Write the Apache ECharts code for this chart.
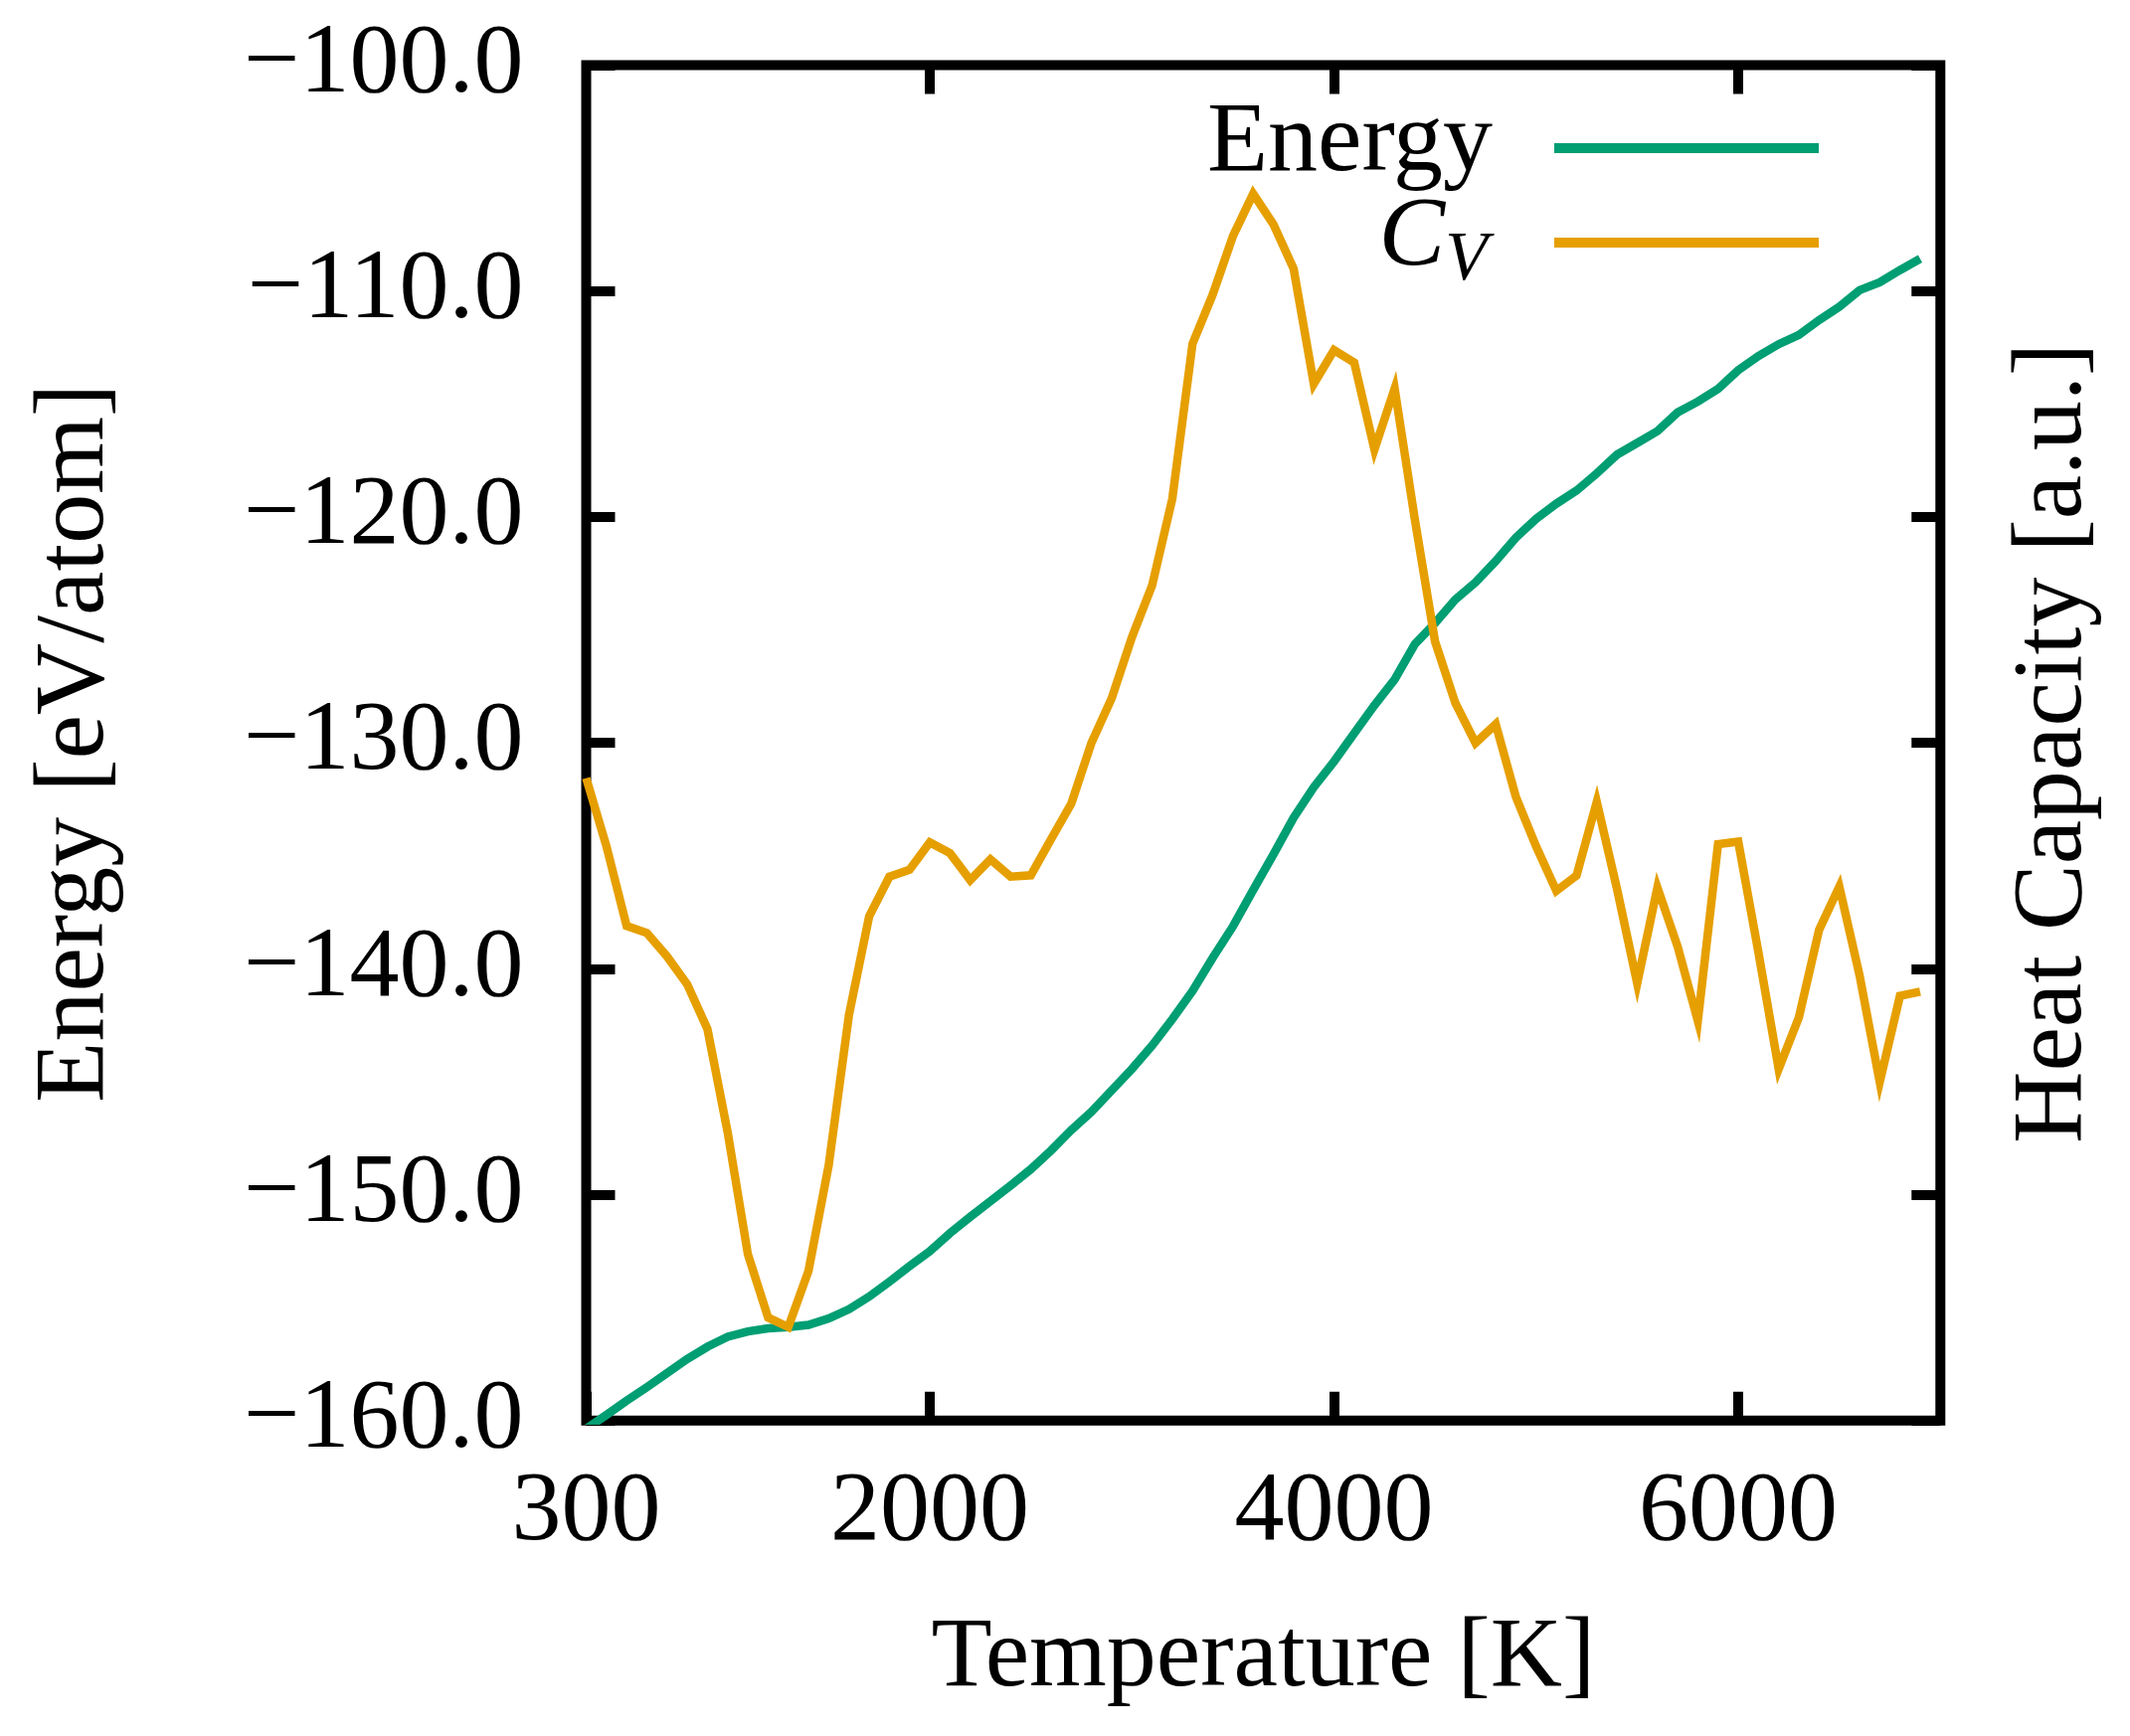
<!DOCTYPE html>
<html>
<head>
<meta charset="utf-8">
<script src="https://cdn.jsdelivr.net/npm/echarts@6/dist/echarts.min.js"></script>
<style>
html,body{margin:0;padding:0;background:#fff;}
#chart{width:2142px;height:1746px;}
</style>
</head>
<body>
<div id="chart"></div>
<script>
// Temperature grid [K]
const temperatures = [300,400,500,600,700,800,900,1000,1100,1200,1300,1400,1500,1600,1700,1800,1900,2000,2100,2200,2300,2400,2500,2600,2700,2800,2900,3000,3100,3200,3300,3400,3500,3600,3700,3800,3900,4000,4100,4200,4300,4400,4500,4600,4700,4800,4900,5000,5100,5200,5300,5400,5500,5600,5700,5800,5900,6000,6100,6200,6300,6400,6500,6600,6700,6800,6900];
// Energy [eV/atom]
const energy = [-160.36,-159.75,-159.12,-158.52,-157.90,-157.27,-156.73,-156.29,-156.05,-155.92,-155.86,-155.76,-155.48,-155.07,-154.51,-153.85,-153.16,-152.50,-151.70,-150.98,-150.29,-149.59,-148.87,-148.04,-147.14,-146.33,-145.38,-144.43,-143.40,-142.23,-140.98,-139.51,-138.12,-136.51,-134.94,-133.31,-131.96,-130.82,-129.57,-128.33,-127.19,-125.63,-124.69,-123.65,-122.89,-121.95,-120.91,-120.08,-119.41,-118.83,-118.07,-117.24,-116.72,-116.20,-115.37,-114.89,-114.33,-113.50,-112.87,-112.35,-111.94,-111.28,-110.69,-109.96,-109.61,-109.07,-108.57];
// Heat capacity [a.u.]
const heatCapacity = [28.44,25.43,21.90,21.59,20.55,19.31,17.33,12.76,7.36,4.56,4.14,6.63,11.31,17.95,22.32,24.08,24.39,25.60,25.12,23.93,24.85,24.08,24.14,25.74,27.31,30.01,31.98,34.68,36.97,40.81,47.67,49.85,52.44,54.31,52.96,50.99,45.90,47.39,46.84,42.99,45.69,39.88,34.48,31.77,30.00,30.83,27.60,25.42,23.45,24.13,27.39,23.54,19.36,23.60,20.99,17.70,25.52,25.63,20.72,15.57,17.85,21.73,23.64,19.72,14.99,18.80,18.99];
// Tick labels
const xTicks = [300, 2000, 4000, 6000];
const xTopTicks = [2000, 4000, 6000];
const seriesNames = ['Energy', 'CV'];

const FONT = 'Liberation Serif';
const GREEN = '#009E73';
const ORANGE = '#E69F00';

const chart = echarts.init(document.getElementById('chart'), null, {renderer: 'canvas'});

const tickStyle = {show: true, inside: true, length: 29, lineStyle: {color: '#000', width: 10}};

const option = {
  backgroundColor: '#fff',
  animation: false,
  grid: {
    left: 589.5, right: 190.7, top: 65.6, bottom: 317.2,
    show: true, borderColor: '#000', borderWidth: 10, backgroundColor: 'transparent',
    containLabel: false, outerBoundsMode: 'none'
  },
  legend: {
    orient: 'vertical',
    align: 'right',
    right: 308,
    top: 90,
    itemWidth: 266,
    itemHeight: 10,
    itemGap: -9,
    icon: 'rect',
    selectedMode: false,
    data: seriesNames,
    formatter: function (name) {
      return name === 'CV' ? '{c|C}{v|V}{g2|}' : '{e|' + name + '}{g1|}';
    },
    textStyle: {
      fontFamily: FONT,
      fontSize: 100,
      color: '#000',
      rich: {
        e: {fontFamily: FONT, fontSize: 100, lineHeight: 90, verticalAlign: 'top', color: '#000'},
        c: {fontFamily: FONT, fontSize: 100, fontStyle: 'italic', lineHeight: 90, verticalAlign: 'top', color: '#000'},
        v: {fontFamily: FONT, fontSize: 70, fontStyle: 'italic', lineHeight: 76, verticalAlign: 'bottom', color: '#000'},
        g1: {width: 57, lineHeight: 108},
        g2: {width: 62, lineHeight: 108}
      }
    }
  },
  xAxis: [
    {
      type: 'value', position: 'bottom', min: 300, max: 7000,
      name: 'Temperature [K]', nameLocation: 'middle', nameGap: 190, nameMoveOverlap: false,
      nameTextStyle: {fontFamily: FONT, fontSize: 100, color: '#000'},
      axisLine: {show: false},
      axisTick: Object.assign({customValues: xTicks}, tickStyle),
      axisLabel: {customValues: xTicks, margin: 43, fontFamily: FONT, fontSize: 100, color: '#000',
        formatter: function (v) { return String(v); }},
      splitLine: {show: false}
    },
    {
      type: 'value', position: 'top', min: 300, max: 7000,
      axisLine: {show: false},
      axisTick: Object.assign({customValues: xTopTicks}, tickStyle),
      axisLabel: {show: false},
      splitLine: {show: false}
    }
  ],
  yAxis: [
    {
      type: 'value', position: 'left', min: -160, max: -100, interval: 10,
      name: 'Energy [eV/atom]', nameLocation: 'middle', nameGap: 463, nameMoveOverlap: false,
      nameTextStyle: {fontFamily: FONT, fontSize: 100, color: '#000'},
      axisLine: {show: false},
      axisTick: tickStyle,
      axisLabel: {margin: 63, fontFamily: FONT, fontSize: 100, color: '#000',
        formatter: function (v) { return (v < 0 ? '\u2212' : '') + Math.abs(v).toFixed(1); }},
      splitLine: {show: false}
    },
    {
      type: 'value', position: 'right', min: 0, max: 60, interval: 10,
      name: 'Heat Capacity [a.u.]', nameLocation: 'middle', nameGap: 64, nameMoveOverlap: false,
      nameTextStyle: {fontFamily: FONT, fontSize: 100, color: '#000'},
      axisLine: {show: false},
      axisTick: tickStyle,
      axisLabel: {show: false},
      splitLine: {show: false}
    }
  ],
  series: [
    {
      name: 'Energy', type: 'line', xAxisIndex: 0, yAxisIndex: 0,
      data: temperatures.map(function (t, i) { return [t, energy[i]]; }),
      showSymbol: false, symbol: 'none', clip: true,
      lineStyle: {color: GREEN, width: 8.5, join: 'miter'},
      itemStyle: {color: GREEN}
    },
    {
      name: 'CV', type: 'line', xAxisIndex: 0, yAxisIndex: 1,
      data: temperatures.map(function (t, i) { return [t, heatCapacity[i]]; }),
      showSymbol: false, symbol: 'none', clip: true,
      lineStyle: {color: ORANGE, width: 8.5, join: 'miter'},
      itemStyle: {color: ORANGE}
    }
  ]
};
chart.setOption(option);
</script>
</body>
</html>
